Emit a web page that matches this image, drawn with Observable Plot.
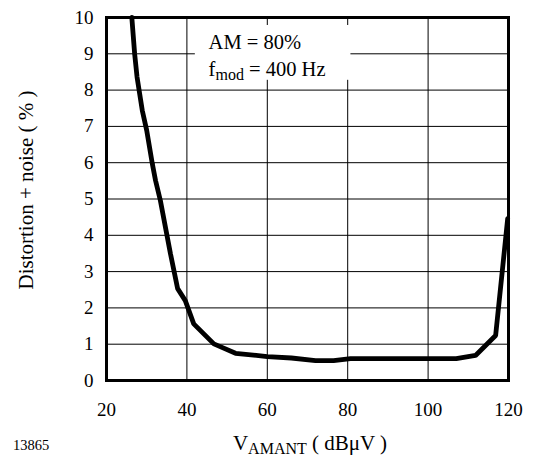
<!DOCTYPE html>
<html><head><meta charset="utf-8">
<script src="https://cdn.jsdelivr.net/npm/d3@7"></script>
<script src="https://cdn.jsdelivr.net/npm/@observablehq/plot@0.6"></script>
<style>body{margin:0;background:#fff} #chart svg{display:block} #chart svg, #chart svg text{font-family:"Liberation Serif","Times New Roman",Times,serif !important}</style>
</head><body><div id="chart"></div>
<script>
// V_AMANT (dBµV)
const vAmant = [26.3, 27.0, 27.6, 28.9, 30.0, 31.4, 32.2, 33.4, 35.9, 37.7, 39.6, 41.7, 46.7, 52.1, 60.0, 66.0, 72.0, 76.5, 80.7, 107.0, 111.8, 116.8, 119.8];
// Distortion + noise (%)
const distortion = [10, 9.0, 8.36, 7.44, 6.89, 5.97, 5.51, 4.96, 3.50, 2.53, 2.2, 1.56, 1.01, 0.75, 0.66, 0.62, 0.55, 0.55, 0.6, 0.6, 0.69, 1.24, 4.46];
const xTicks = [20, 40, 60, 80, 100, 120];
const yTicks = [0, 1, 2, 3, 4, 5, 6, 7, 8, 9, 10];
const annotationLine1 = "AM = 80%";
const annotationLine2 = ["f", "mod", " = 400 Hz"];
const yLabel = "Distortion + noise ( % )";
const xLabel = ["V", "AMANT", " ( dBμV )"];
const figureId = "13865";

const data = vAmant.map((v, i) => ({v, d: distortion[i]}));
const font = "'Liberation Serif', 'Times New Roman', Times, serif";

// annotation box (data units)
const box = [{x1: 42.1, x2: 80.8, y1: 8.27, y2: 9.78}];

const chart = Plot.plot({
  width: 533, height: 457,
  marginLeft: 106, marginRight: 25, marginTop: 17, marginBottom: 77,
  style: {fontFamily: font, fontSize: "19px", background: "white", color: "black"},
  x: {domain: [20, 120]},
  y: {domain: [0, 10]},
  marks: [
    Plot.gridX(xTicks, {stroke: "black", strokeOpacity: 1, strokeWidth: 1}),
    Plot.gridY(yTicks, {stroke: "black", strokeOpacity: 1, strokeWidth: 1}),
    Plot.rect(box, {x1: "x1", x2: "x2", y1: "y1", y2: "y2", fill: "white"}),
    Plot.line(data, {x: "v", y: "d", stroke: "black", strokeWidth: 4.8, strokeLinejoin: "miter"}),
    Plot.frame({stroke: "black", strokeWidth: 3}),
    Plot.axisX(xTicks, {tickSize: 0, tickPadding: 22, fontSize: 19, label: null}),
    Plot.axisY(yTicks, {tickSize: 0, tickPadding: 13, fontSize: 19, label: null}),
    Plot.text([annotationLine1], {x: 45.4, y: 9.32, text: d => d, textAnchor: "start", fontSize: 20.5, className: "ann1"}),
    Plot.text([annotationLine2.join("")], {x: 45.4, y: 8.57, text: d => d, textAnchor: "start", fontSize: 20.5, className: "ann2"})
  ]
});

const svg = d3.select(chart);
svg.selectAll(".ann2 text").html(`${annotationLine2[0]}<tspan dy="4" font-size="16">${annotationLine2[1]}</tspan><tspan dy="-4">${annotationLine2[2]}</tspan>`);

svg.append("text")
  .attr("transform", "translate(26,190) rotate(-90)")
  .attr("text-anchor", "middle").attr("dy", "0.35em")
  .attr("font-size", 21).attr("fill", "black")
  .text(yLabel);

svg.append("text")
  .attr("x", 310).attr("y", 450)
  .attr("text-anchor", "middle")
  .attr("font-size", 21).attr("fill", "black")
  .html(`${xLabel[0]}<tspan dy="4" font-size="16">${xLabel[1]}</tspan><tspan dy="-4">${xLabel[2]}</tspan>`);

svg.append("text")
  .attr("x", 13).attr("y", 450)
  .attr("text-anchor", "start")
  .attr("font-size", 14.5).attr("fill", "black")
  .text(figureId);

document.getElementById("chart").appendChild(chart);
</script>
</body></html>
